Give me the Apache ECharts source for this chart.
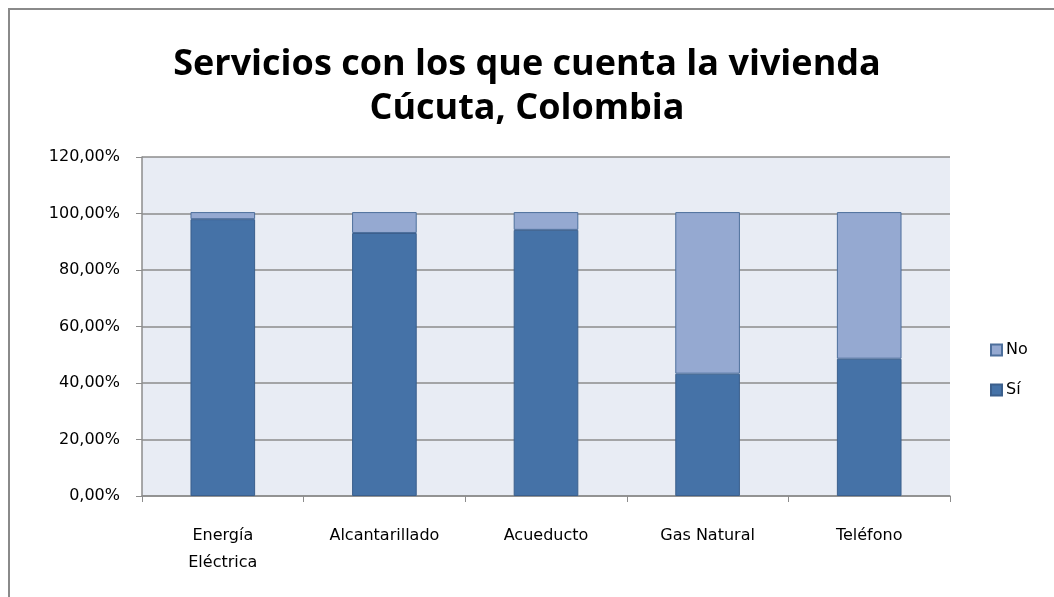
<!DOCTYPE html>
<html>
<head>
<meta charset="utf-8">
<title>Servicios con los que cuenta la vivienda</title>
<script src="https://cdn.jsdelivr.net/npm/echarts@6/dist/echarts.min.js"></script>
<style>
  html, body { margin: 0; padding: 0; background: #fff; overflow: hidden; }
  #frame {
    position: absolute; left: 8px; top: 8px; width: 1100px; height: 640px;
    border-left: 2px solid #8a8a8a; border-top: 2px solid #8a8a8a;
  }
  #chart { position: absolute; left: 0; top: 0; width: 1054px; height: 597px; }
</style>
</head>
<body>
<div id="frame"></div>
<div id="chart"></div>
<script>
// servicios y porcentajes
const categorias = ['Energía\nEléctrica', 'Alcantarillado', 'Acueducto', 'Gas Natural', 'Teléfono'];
const si = [98.0, 93.1, 94.2, 43.3, 48.6];
const no = [2.5, 7.4, 6.3, 57.2, 51.9];
const ticksY = [0, 20, 40, 60, 80, 100, 120];

const fmtPct = (v) => v.toFixed(2).replace('.', ',') + '%';
const fuente = 'DejaVu Sans';

const chart = echarts.init(document.getElementById('chart'));
const option = {
  animation: false,
  title: {
    text: 'Servicios con los que cuenta la vivienda\nCúcuta, Colombia',
    left: 'center',
    top: 38,
    textStyle: {
      fontFamily: 'Open Sans',
      fontSize: 36,
      fontWeight: 'bold',
      color: '#000',
      lineHeight: 44
    }
  },
  legend: {
    orient: 'vertical',
    left: 985,
    top: 337,
    icon: 'rect',
    itemWidth: 11,
    itemHeight: 11,
    itemGap: 24,
    data: ['No', 'Sí'],
    textStyle: { fontFamily: fuente, fontSize: 16, color: '#000', padding: [0, 0, 0, -1] }
  },
  grid: {
    left: 142, right: 104, top: 157, bottom: 101,
    show: true, backgroundColor: '#e8ecf4', borderWidth: 0
  },
  xAxis: {
    type: 'category',
    data: categorias,
    axisLine: { lineStyle: { color: '#8c8c8c', width: 1.5 } },
    axisTick: { show: true, length: 6, lineStyle: { color: '#8c8c8c' } },
    axisLabel: {
      margin: 26,
      fontFamily: fuente,
      fontSize: 16,
      color: '#000',
      lineHeight: 27
    }
  },
  yAxis: {
    type: 'value',
    min: 0,
    max: ticksY[ticksY.length - 1],
    interval: 20,
    axisLine: { show: true, lineStyle: { color: '#8c8c8c', width: 1.5 } },
    axisTick: { show: true, length: 6, lineStyle: { color: '#8c8c8c' } },
    splitLine: { lineStyle: { color: '#8c8c8c', width: 1.5 } },
    axisLabel: {
      margin: 22,
      fontFamily: fuente,
      fontSize: 16,
      color: '#000',
      formatter: (v) => fmtPct(v)
    }
  },
  series: [
    {
      name: 'Sí',
      type: 'bar',
      stack: 'total',
      barWidth: '40%',
      data: si,
      itemStyle: { color: '#4572a7', borderColor: '#3b5f8c', borderWidth: 1 }
    },
    {
      name: 'No',
      type: 'bar',
      stack: 'total',
      barWidth: '40%',
      data: no,
      itemStyle: { color: '#95a9d1', borderColor: '#4d6f9c', borderWidth: 1 }
    }
  ]
};
chart.setOption(option);
</script>
</body>
</html>
